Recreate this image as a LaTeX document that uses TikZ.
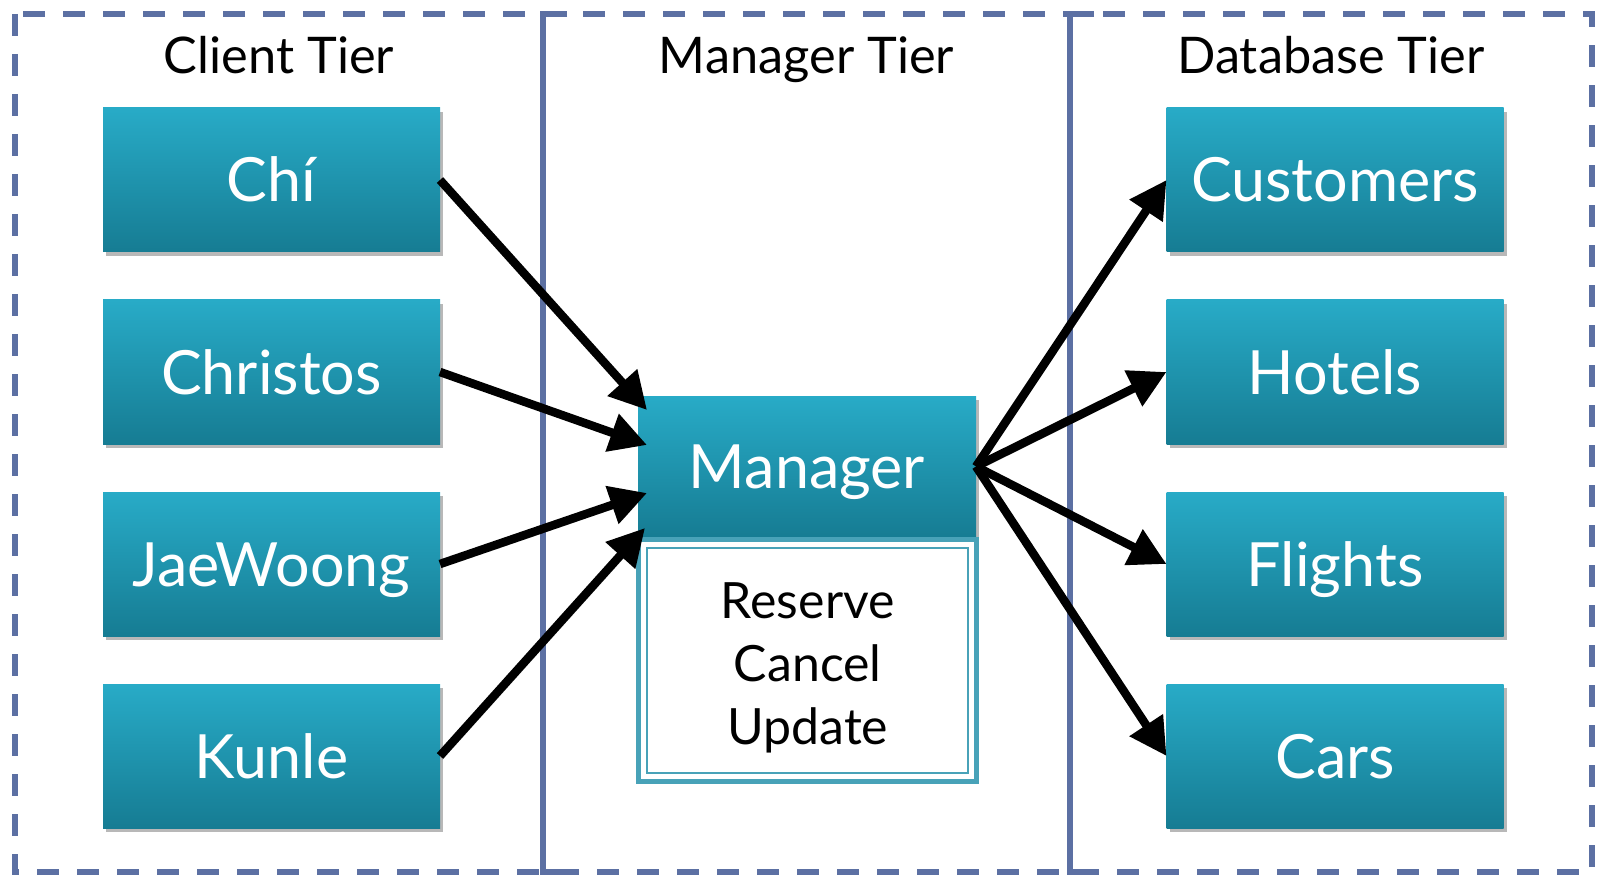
\documentclass[tikz,border=0pt]{standalone}
\usepackage{fontspec}
\setmainfont{Lato}
\usetikzlibrary{arrows.meta,shadows,calc}
\definecolor{tealtop}{RGB}{40,171,199}
\definecolor{tealbot}{RGB}{22,124,147}
\definecolor{tealline}{RGB}{72,162,184}
\definecolor{tiercol}{RGB}{92,112,163}
\begin{document}
\begin{tikzpicture}[x=1pt,y=-1pt,
  tealbox/.style={rectangle, inner sep=0pt, outer sep=0pt,
    minimum width=337pt, minimum height=144pt,
    top color=tealtop, bottom color=tealbot, draw=none, text=white,
    font=\fontsize{61}{72}\selectfont, text height=44pt, text depth=0pt,
    drop shadow={shadow xshift=3pt, shadow yshift=-4pt, opacity=0.28, fill=black}},
  tiertitle/.style={anchor=base, inner sep=0pt, font=\fontsize{50.5}{60}\selectfont},
  flow/.style={line width=8.5pt, black, -{Triangle[length=37pt,width=38pt]},
    preaction={draw=black, opacity=0.2, transform canvas={xshift=2.5pt,yshift=-3.5pt}}},
  tierline/.style={draw=tiercol, line width=6pt}]

\useasboundingbox (0,0) rectangle (1604,877);

% outer dashed frame and tier separators
\draw[tierline, dash pattern=on 22pt off 18pt] (15,14) rectangle (1592,872);
\draw[tierline] (567,14) -- (543,14) -- (543,872) -- (567,872);
\draw[tierline] (1094,14) -- (1070,14) -- (1070,872) -- (1094,872);

% tier titles
\node[tiertitle] (tclient) at (279,74) {Client Tier};
\node[tiertitle] (tmanager) at (806.5,74) {Manager Tier};
\node[tiertitle] (tdb) at (1331,74) {Database Tier};

% clients
\node[tealbox] (chi) at (271.5,180) {Chí};
\node[tealbox] (christos) at (271.5,372) {Christos};
\node[tealbox] (jae) at (271.5,564) {JaeWoong};
\node[tealbox] (kunle) at (271.5,756) {Kunle};

% manager and its operations
\node[tealbox, minimum width=338pt, minimum height=141pt] (mgr) at (807,466.5) {Manager};
\node[rectangle, draw=tealline, line width=5pt, fill=white, inner sep=0pt, outer sep=0pt,
  minimum width=338pt, minimum height=242pt] (ops) at (807.75,660.5) {};
\draw[tealline, line width=2pt] ($(ops.north west)+(8.5,8.5)$) rectangle ($(ops.south east)+(-8.5,-8.5)$);
\node[align=center, inner sep=0pt, font=\fontsize{50}{63}\selectfont] (opstext)
  at ($(ops.center)+(0,7)$) {Reserve\\Cancel\\Update};

% databases
\node[tealbox] (cust) at (1335,180) {Customers};
\node[tealbox] (hotels) at (1335,372) {Hotels};
\node[tealbox] (flights) at (1335,564) {Flights};
\node[tealbox] (cars) at (1335,756) {Cars};

% requests into the manager
\draw[flow] (chi.east) -- ($(mgr.west)+(9,-56.5)$);
\draw[flow] (christos.east) -- ($(mgr.west)+(9,-21.5)$);
\draw[flow] (jae.east) -- ($(mgr.west)+(9,26.5)$);
\draw[flow] (kunle.east) -- ($(mgr.west)+(7,61.5)$);

% manager to the databases
\draw[flow] (mgr.east) -- (cust.west);
\draw[flow] (mgr.east) -- (hotels.west);
\draw[flow] (mgr.east) -- (flights.west);
\draw[flow] (mgr.east) -- (cars.west);
\end{tikzpicture}
\end{document}
